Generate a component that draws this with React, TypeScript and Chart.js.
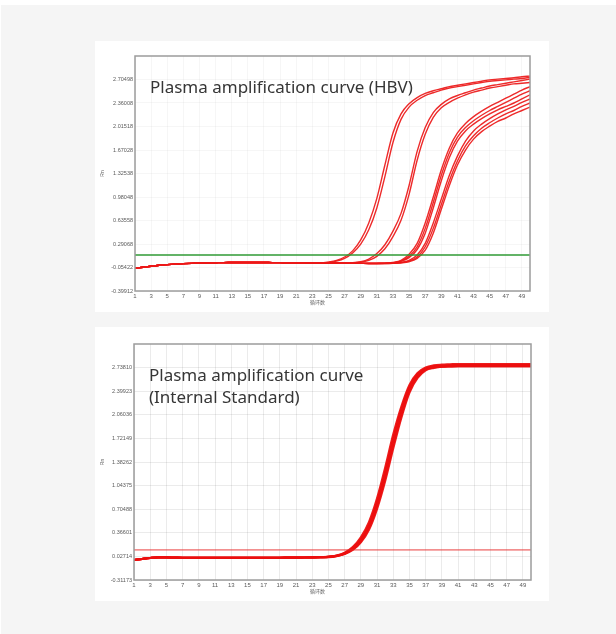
import React, { useEffect, useRef } from 'react';
import { Chart, registerables } from 'chart.js';

Chart.register(...registerables);
Chart.defaults.font.family = '"Liberation Sans", Arial, sans-serif';

// Cycle numbers on the x axis
const CYCLES = [
  1, 2, 3, 4, 5, 6, 7, 8, 9, 10, 11, 12, 13, 14, 15, 16, 17, 18, 19, 20, 21, 22, 23, 24, 25,
  26, 27, 28, 29, 30, 31, 32, 33, 34, 35, 36, 37, 38, 39, 40, 41, 42, 43, 44, 45, 46, 47, 48, 49, 50,
];
const X_TICK_LABELS = [
  '1', '3', '5', '7', '9', '11', '13', '15', '17', '19', '21', '23', '25',
  '27', '29', '31', '33', '35', '37', '39', '41', '43', '45', '47', '49',
];
const X_TITLE = '循环数';
const Y_TITLE = 'Rn';

// ---- HBV panel ----
const HBV_TITLE = ['Plasma amplification curve (HBV)'];
const HBV_Y_TICKS = ['-0.39912', '-0.05422', '0.29068', '0.63558', '0.98048', '1.32538', '1.67028', '2.01518', '2.36008', '2.70498'];
const HBV_Y_MAX = 3.04988;
const HBV_THRESHOLD = 0.13;

// shared baseline, cycles 1-24
const HBV_BASELINE = [
  -0.065, -0.05, -0.035, -0.022, -0.012, -0.004, 0.002, 0.007, 0.011, 0.014, 0.016, 0.018,
  0.019, 0.02, 0.02, 0.02, 0.019, 0.018, 0.017, 0.016, 0.015, 0.013, 0.012, 0.011,
];
// cycles 25-50 for each sample
const HBV_A1 = [0.025, 0.05, 0.10, 0.19, 0.35, 0.60, 0.96, 1.45, 1.92, 2.20, 2.35, 2.44, 2.50, 2.54, 2.57, 2.60, 2.62, 2.64, 2.66, 2.68, 2.70, 2.71, 2.72, 2.73, 2.745, 2.755];
const HBV_A2 = [0.02, 0.04, 0.08, 0.16, 0.29, 0.50, 0.82, 1.28, 1.78, 2.12, 2.30, 2.40, 2.47, 2.51, 2.55, 2.58, 2.60, 2.62, 2.64, 2.66, 2.68, 2.69, 2.70, 2.71, 2.72, 2.735];
const HBV_B1 = [0.011, 0.011, 0.012, 0.015, 0.03, 0.07, 0.15, 0.28, 0.48, 0.74, 1.15, 1.65, 2.0, 2.22, 2.34, 2.42, 2.47, 2.51, 2.55, 2.58, 2.61, 2.63, 2.65, 2.67, 2.69, 2.71];
const HBV_B2 = [0.011, 0.01, 0.01, 0.012, 0.022, 0.05, 0.11, 0.22, 0.40, 0.64, 1.02, 1.52, 1.90, 2.15, 2.29, 2.37, 2.43, 2.48, 2.52, 2.55, 2.58, 2.60, 2.62, 2.64, 2.65, 2.66];
const HBV_C1 = [0.01, 0.009, 0.008, 0.007, 0.006, 0.006, 0.007, 0.01, 0.02, 0.05, 0.14, 0.30, 0.60, 0.98, 1.38, 1.70, 1.92, 2.06, 2.16, 2.24, 2.31, 2.37, 2.43, 2.49, 2.55, 2.60];
const HBV_C2 = [0.01, 0.009, 0.008, 0.007, 0.006, 0.006, 0.006, 0.008, 0.015, 0.04, 0.11, 0.25, 0.52, 0.90, 1.30, 1.63, 1.86, 2.00, 2.10, 2.18, 2.25, 2.31, 2.37, 2.43, 2.49, 2.54];
const HBV_C3 = [0.01, 0.009, 0.008, 0.007, 0.006, 0.005, 0.005, 0.007, 0.012, 0.035, 0.09, 0.21, 0.45, 0.82, 1.22, 1.56, 1.80, 1.95, 2.05, 2.13, 2.20, 2.26, 2.31, 2.36, 2.42, 2.48];
const HBV_D1 = [0.01, 0.009, 0.008, 0.007, 0.006, 0.005, 0.005, 0.006, 0.01, 0.02, 0.05, 0.13, 0.30, 0.60, 0.95, 1.30, 1.58, 1.80, 1.95, 2.05, 2.13, 2.20, 2.26, 2.31, 2.37, 2.42];
const HBV_D2 = [0.01, 0.009, 0.008, 0.007, 0.006, 0.005, 0.005, 0.005, 0.008, 0.016, 0.04, 0.10, 0.25, 0.52, 0.87, 1.22, 1.51, 1.73, 1.88, 1.99, 2.07, 2.14, 2.20, 2.25, 2.31, 2.36];
const HBV_D3 = [0.01, 0.009, 0.008, 0.007, 0.006, 0.005, 0.005, 0.005, 0.007, 0.013, 0.03, 0.08, 0.20, 0.45, 0.80, 1.15, 1.45, 1.67, 1.83, 1.94, 2.02, 2.09, 2.14, 2.20, 2.25, 2.30];

// ---- Internal standard panel ----
const IC_TITLE = ['Plasma amplification curve', '(Internal Standard)'];
const IC_Y_TICKS = ['-0.31173', '0.02714', '0.36601', '0.70488', '1.04375', '1.38262', '1.72149', '2.06036', '2.39923', '2.73810'];
const IC_Y_MAX = 3.07697;
const IC_THRESHOLD = 0.12;

const IC_BASELINE = [
  -0.025, -0.01, 0.004, 0.012, 0.012, 0.01, 0.008, 0.007, 0.007, 0.007, 0.007, 0.007,
  0.007, 0.007, 0.007, 0.007, 0.007, 0.008, 0.008, 0.009, 0.01, 0.011, 0.013, 0.016,
];
const IC_R1 = [0.02, 0.035, 0.07, 0.14, 0.26, 0.46, 0.78, 1.20, 1.68, 2.10, 2.44, 2.63, 2.72, 2.75, 2.76, 2.765, 2.77, 2.77, 2.77, 2.77, 2.77, 2.77, 2.77, 2.77, 2.77, 2.77];
const IC_R2 = [0.022, 0.04, 0.08, 0.16, 0.30, 0.52, 0.86, 1.30, 1.78, 2.18, 2.49, 2.66, 2.74, 2.77, 2.78, 2.785, 2.79, 2.79, 2.79, 2.79, 2.79, 2.79, 2.79, 2.79, 2.79, 2.79];
const IC_R3 = [0.018, 0.032, 0.062, 0.12, 0.23, 0.41, 0.71, 1.11, 1.58, 2.02, 2.38, 2.59, 2.70, 2.735, 2.75, 2.755, 2.76, 2.76, 2.76, 2.76, 2.76, 2.76, 2.76, 2.76, 2.76, 2.76];
const IC_R4 = [0.02, 0.036, 0.072, 0.145, 0.27, 0.48, 0.81, 1.24, 1.72, 2.14, 2.46, 2.645, 2.725, 2.755, 2.765, 2.77, 2.775, 2.775, 2.775, 2.775, 2.775, 2.775, 2.775, 2.775, 2.775, 2.775];
const IC_R5 = [0.019, 0.033, 0.066, 0.13, 0.245, 0.44, 0.75, 1.16, 1.63, 2.06, 2.41, 2.61, 2.71, 2.74, 2.75, 2.755, 2.758, 2.758, 2.758, 2.758, 2.758, 2.758, 2.758, 2.758, 2.758, 2.758];

type PanelSpec = {
  width: number;
  height: number;
  axisWidth: number;
  axisHeight: number;
  padTop: number;
  padRight: number;
  titleLines: string[];
  yTicks: string[];
  yMax: number;
  threshold: number;
  thresholdColor: string;
  thresholdWidth: number;
  series: number[][];
  lineColor: string;
  lineWidth: number;
  gridColor: string;
};

// frame, heading, axis titles
const panelDecor = {
  id: 'panelDecor',
  afterDraw(chart: any, _args: any, opts: any) {
    const { ctx, chartArea: a } = chart;
    ctx.save();
    ctx.strokeStyle = '#9c9c9c';
    ctx.lineWidth = 1.5;
    ctx.strokeRect(a.left, a.top, a.right - a.left, a.bottom - a.top);

    ctx.fillStyle = '#363636';
    ctx.font = '17px "Noto Sans", "Open Sans", sans-serif';
    ctx.textAlign = 'left';
    ctx.textBaseline = 'alphabetic';
    (opts.lines as string[]).forEach((line, i) => {
      ctx.fillText(line, a.left + 15, a.top + 37 + i * 22);
    });

    ctx.fillStyle = '#666666';
    ctx.font = '5px "Noto Sans CJK SC", sans-serif';
    ctx.textAlign = 'center';
    ctx.textBaseline = 'middle';
    ctx.fillText(X_TITLE, a.left + (a.right - a.left) * 0.462, a.bottom + 11);

    ctx.translate(8, (a.top + a.bottom) / 2);
    ctx.rotate(-Math.PI / 2);
    ctx.font = '5px "Liberation Sans", sans-serif';
    ctx.fillText(Y_TITLE, 0, 0);
    ctx.restore();
  },
};

function buildConfig(p: PanelSpec): any {
  const yVals = p.yTicks.map(Number);
  const xVals = X_TICK_LABELS.map(Number);
  const first = CYCLES[0];
  const last = CYCLES[CYCLES.length - 1];
  return {
    type: 'line',
    data: {
      datasets: [
        {
          data: [{ x: first, y: p.threshold }, { x: last, y: p.threshold }],
          borderColor: p.thresholdColor,
          borderWidth: p.thresholdWidth,
          pointRadius: 0,
          order: 0,
        },
        ...p.series.map((s) => ({
          data: CYCLES.map((c, i) => ({ x: c, y: s[i] })),
          borderColor: p.lineColor,
          borderWidth: p.lineWidth,
          pointRadius: 0,
          cubicInterpolationMode: 'monotone',
          order: 1,
        })),
      ],
    },
    options: {
      animation: false,
      responsive: false,
      devicePixelRatio: 1,
      events: [],
      layout: { padding: { left: 0, top: p.padTop, right: p.padRight, bottom: 0 } },
      plugins: {
        legend: { display: false },
        tooltip: { enabled: false },
        panelDecor: { lines: p.titleLines },
      },
      scales: {
        x: {
          type: 'linear',
          min: first,
          max: last,
          afterBuildTicks: (s: any) => {
            s.ticks = xVals.map((v) => ({ value: v }));
          },
          afterFit: (s: any) => {
            s.height = p.axisHeight;
          },
          grid: { color: p.gridColor, drawTicks: false, lineWidth: 1 },
          border: { display: false },
          ticks: {
            autoSkip: false,
            maxRotation: 0,
            padding: 2,
            color: '#5a5a5a',
            font: { size: 6 },
            callback: (_v: any, i: number) => X_TICK_LABELS[i],
          },
        },
        y: {
          type: 'linear',
          min: yVals[0],
          max: p.yMax,
          afterBuildTicks: (s: any) => {
            s.ticks = yVals.map((v) => ({ value: v }));
          },
          afterFit: (s: any) => {
            s.width = p.axisWidth;
          },
          grid: { color: p.gridColor, drawTicks: false, lineWidth: 1 },
          border: { display: false },
          ticks: {
            padding: 2,
            color: '#5a5a5a',
            font: { size: 5.5 },
            callback: (_v: any, i: number) => p.yTicks[i],
          },
        },
      },
    },
    plugins: [panelDecor],
  };
}

function Panel({ spec, left, top }: { spec: PanelSpec; left: number; top: number }) {
  const ref = useRef<HTMLCanvasElement>(null);
  useEffect(() => {
    const chart = new Chart(ref.current as HTMLCanvasElement, buildConfig(spec));
    return () => chart.destroy();
  }, []);
  return (
    <canvas
      ref={ref}
      width={spec.width}
      height={spec.height}
      style={{ position: 'absolute', left, top, width: spec.width, height: spec.height, background: '#ffffff' }}
    />
  );
}

const HBV_PANEL: PanelSpec = {
  width: 454,
  height: 271,
  axisWidth: 40,
  axisHeight: 21,
  padTop: 15,
  padRight: 19,
  titleLines: HBV_TITLE,
  yTicks: HBV_Y_TICKS,
  yMax: HBV_Y_MAX,
  threshold: HBV_THRESHOLD,
  thresholdColor: '#2f9a35',
  thresholdWidth: 1.5,
  series: [HBV_A1, HBV_A2, HBV_B1, HBV_B2, HBV_C1, HBV_C2, HBV_C3, HBV_D1, HBV_D2, HBV_D3].map((t) => [...HBV_BASELINE, ...t]),
  lineColor: 'rgba(236, 24, 24, 0.92)',
  lineWidth: 1.4,
  gridColor: 'rgba(0, 0, 0, 0.035)',
};

const IC_PANEL: PanelSpec = {
  width: 454,
  height: 274,
  axisWidth: 39,
  axisHeight: 21,
  padTop: 17,
  padRight: 18,
  titleLines: IC_TITLE,
  yTicks: IC_Y_TICKS,
  yMax: IC_Y_MAX,
  threshold: IC_THRESHOLD,
  thresholdColor: 'rgba(230, 40, 40, 0.9)',
  thresholdWidth: 1,
  series: [IC_R1, IC_R2, IC_R3, IC_R4, IC_R5].map((t) => [...IC_BASELINE, ...t]),
  lineColor: 'rgba(236, 16, 16, 0.95)',
  lineWidth: 2.2,
  gridColor: 'rgba(0, 0, 0, 0.08)',
};

export default function App() {
  return (
    <div style={{ position: 'absolute', left: 0, top: 0, width: 616, height: 634, background: '#ffffff', overflow: 'hidden' }}>
      <div style={{ position: 'absolute', left: 1, top: 5, width: 615, height: 629, background: '#f5f5f5' }} />
      <Panel spec={HBV_PANEL} left={95} top={41} />
      <Panel spec={IC_PANEL} left={95} top={327} />
    </div>
  );
}
